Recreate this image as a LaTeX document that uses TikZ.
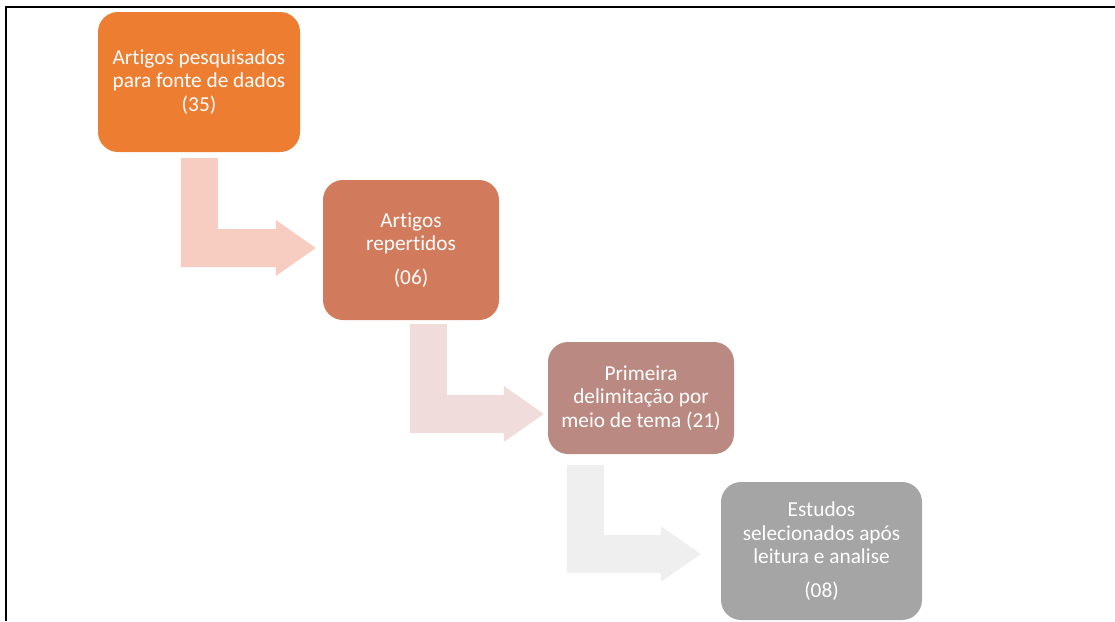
\documentclass[tikz,border=0pt]{standalone}
\usepackage{fontspec}
\setmainfont[Ligatures=NoCommon]{Carlito}
\usetikzlibrary{calc}
\definecolor{laranja}{HTML}{ED7D31}
\definecolor{telha}{HTML}{D17B5C}
\definecolor{rosado}{HTML}{BA8A82}
\definecolor{cinza}{HTML}{A5A5A5}
\definecolor{setaA}{HTML}{F6CDC0}
\definecolor{setaB}{HTML}{F0DDDB}
\definecolor{setaC}{HTML}{EFEFEF}
\tikzset{caixa/.style={rounded corners=20pt, inner sep=0pt, align=center, text=white,
	font=\fontsize{21.3}{23.5}\selectfont}}
% seta dobrada: cor, topo da barra, ponta
\newcommand{\seta}[3]{%
	\fill[#1] let \p1=(#2), \p2=(#3) in
	(\x1,\y1) -- (\x1+37pt,\y1) -- (\x1+37pt,\y2+19pt) -- (\x2-40pt,\y2+19pt)
	-- (\x2-40pt,\y2+28pt) -- (\x2,\y2) -- (\x2-40pt,\y2-28pt)
	-- (\x2-40pt,\y2-19pt) -- (\x1,\y2-19pt) -- cycle;}
\begin{document}
\begin{tikzpicture}[x=1pt,y=-1pt]
	\useasboundingbox (0,0) rectangle (1115,621);
	\draw[line width=2pt](1115,7)--(6,7)--(6,621);
	\node[caixa, fill=laranja, minimum width=202pt, minimum height=140pt] (c1) at (199,82)
		{Artigos pesquisados\\para fonte de dados\\(35)};
	\node[caixa, fill=telha, minimum width=176pt, minimum height=140pt] (c2) at (411,250)
		{Artigos\\repertidos\\[10pt](06)};
	\node[caixa, fill=rosado, minimum width=186pt, minimum height=112pt] (c3) at (641,398)
		{Primeira\\delimitação por\\meio de tema (21)};
	\node[caixa, fill=cinza, minimum width=201pt, minimum height=138pt] (c4) at (821.5,551)
		{Estudos\\selecionados após\\leitura e analise\\[10pt](08)};
%	\draw (c1) -- (c2);
	\seta{setaA}{$(c1.south west)+(83,6)$}{$(c2.west)+(-7,-2)$}
	\seta{setaB}{$(c2.south west)+(87,4)$}{$(c3.west)+(-4,16)$}
	\seta{setaC}{$(c3.south west)+(19,11)$}{$(c4.west)+(-20,3)$}
\end{tikzpicture}
\end{document}
